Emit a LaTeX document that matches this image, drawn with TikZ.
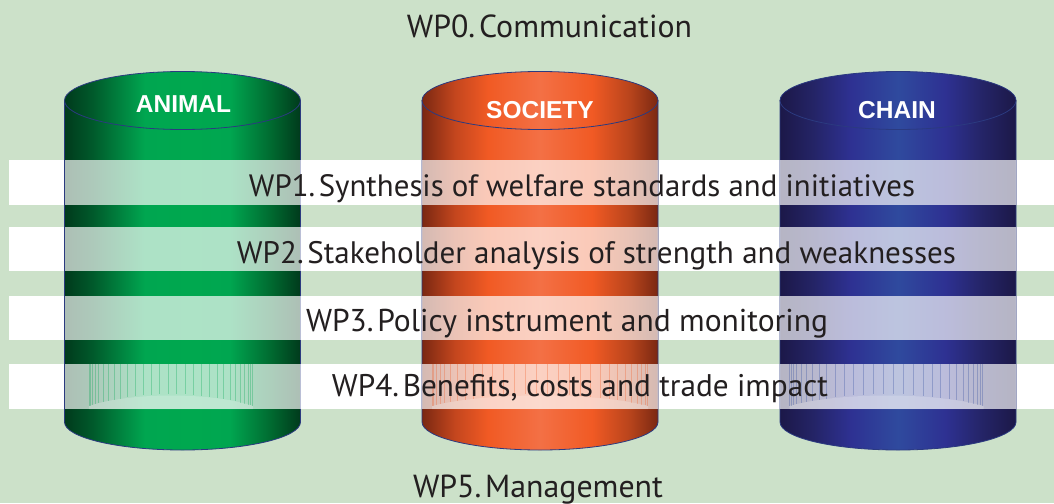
\documentclass[tikz,border=0pt]{standalone}
\usepackage{fontspec}
\setmainfont{PT Sans}
\newfontfamily\labelfont{Liberation Sans}
\usepackage{graphicx}
\definecolor{bg}{HTML}{CCE1C9}
\definecolor{txt}{HTML}{231F20}
\definecolor{cylline}{HTML}{2B3A80}
\definecolor{gA}{HTML}{003A1C}
\definecolor{gB}{HTML}{005A2B}
\definecolor{gC}{HTML}{00A650}
\definecolor{gD}{HTML}{00A84F}
\definecolor{gE}{HTML}{00682F}
\definecolor{oA}{HTML}{7A2812}
\definecolor{oB}{HTML}{C4461E}
\definecolor{oC}{HTML}{F15A24}
\definecolor{oD}{HTML}{F37045}
\definecolor{oE}{HTML}{B8441C}
\definecolor{bA}{HTML}{1C1848}
\definecolor{bB}{HTML}{242466}
\definecolor{bC}{HTML}{2E3192}
\definecolor{bD}{HTML}{2F4A9E}
\pgfdeclarehorizontalshading{greencyl}{100bp}{color(0bp)=(gA); color(25bp)=(gA); color(31bp)=(gB); color(42bp)=(gC); color(52bp)=(gD); color(60bp)=(gC); color(69bp)=(gE); color(75bp)=(gA); color(100bp)=(gA)}
\pgfdeclarehorizontalshading{orangecyl}{100bp}{color(0bp)=(oA); color(25bp)=(oA); color(32bp)=(oB); color(39bp)=(oC); color(50bp)=(oD); color(61bp)=(oC); color(69bp)=(oE); color(75bp)=(oA); color(100bp)=(oA)}
\pgfdeclarehorizontalshading{bluecyl}{100bp}{color(0bp)=(bA); color(25bp)=(bA); color(32bp)=(bB); color(40bp)=(bC); color(50bp)=(bD); color(60bp)=(bC); color(68bp)=(bB); color(75bp)=(bA); color(100bp)=(bA)}
\newcommand{\wpsp}{\hspace{0.12em}}
\tikzset{
  cylbody/.style={draw=cylline, line width=0.8pt},
  bandfill/.style={fill=white},
  bandglass/.style={fill=white, fill opacity=0.68},
  bandtext/.style={anchor=base, inner sep=0pt, text=txt},
  cyllabel/.style={anchor=base, inner sep=0pt, text=white, font=\labelfont\bfseries\fontsize{24.5}{24.5}\selectfont},
  texline/.style={line width=0.6pt, draw opacity=0.3}
}
\begin{document}
\begin{tikzpicture}[x=1pt,y=-1pt]
\fill[bg] (0,0) rectangle (1054,503);
\useasboundingbox (0,0) rectangle (1054,503);
% opaque bands
\foreach \a/\b in {160/205, 227/271, 296/340, 364/409}{
  \fill[bandfill] (9,\a) rectangle (1054,\b);
}
% cylinders
\foreach \cx/\sh in {182.5/greencyl, 540/orangecyl, 898/bluecyl}{
  \path[cylbody, shading=\sh] ({\cx-118},100.5) -- ({\cx-118},422) arc[start angle=180, end angle=360, x radius=118pt, y radius=28pt] -- ({\cx+118},100.5) -- cycle;
  \path[cylbody, shading=\sh] (\cx,100.5) ellipse[x radius=118pt, y radius=29pt];
  \foreach \a/\b in {160/205, 227/271, 296/340, 364/409}{
    \fill[bandglass] ({\cx-118},\a) rectangle ({\cx+118},\b);
  }
}
% interior texture in band 4
\foreach \cx/\r/\col in {171/82/gC, 540/108/oC, 886.5/97/bD}{
  \foreach \t in {-86,-80,...,86}{
    \draw[texline, draw=\col] ({\cx+\r*sin(\t)},364) -- ({\cx+\r*sin(\t)},{394+12*(sin(\t))^2});
  }
  \fill[white, fill opacity=0.2] ({\cx-\r},406) .. controls ({\cx-\r/2},392) and ({\cx+\r/2},392) .. ({\cx+\r},406) -- ({\cx+\r},409) -- ({\cx-\r},409) -- cycle;
}
% labels
\node[cyllabel] (animal) at (183.5,112.7) {ANIMAL};
\node[cyllabel] (society) at (540,118.3) {SOCIETY};
\node[cyllabel] (chain) at (897,118.3) {CHAIN};
% texts
\node[bandtext] (wp0) at (549.5,37.7) {\resizebox{285pt}{!}{\fontsize{30}{30}\selectfont WP0.\wpsp Communication}};
\node[bandtext] (wp1) at (582,196.7) {\resizebox{666pt}{!}{\fontsize{32}{32}\selectfont WP1.\wpsp Synthesis of welfare standards and initiatives}};
\node[bandtext] (wp2) at (596.5,263) {\resizebox{719pt}{!}{\fontsize{32}{32}\selectfont WP2.\wpsp Stakeholder analysis of strength and weaknesses}};
\node[bandtext] (wp3) at (567,331.5) {\resizebox{522pt}{!}{\fontsize{32}{32}\selectfont WP3.\wpsp Policy instrument and monitoring}};
\node[bandtext] (wp4) at (580,396) {\resizebox{496pt}{!}{\fontsize{32}{32}\selectfont WP4.\wpsp Benefits, costs and trade impact}};
\node[bandtext] (wp5) at (538,497.7) {\resizebox{250pt}{!}{\fontsize{30}{30}\selectfont WP5.\wpsp Management}};
\end{tikzpicture}
\end{document}
